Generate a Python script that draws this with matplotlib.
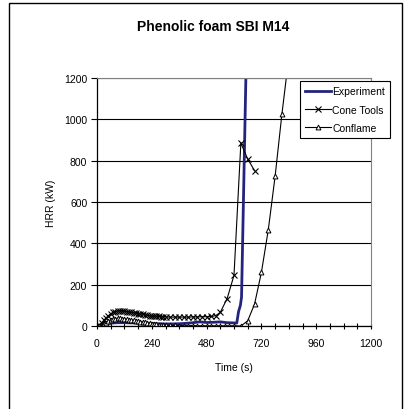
import matplotlib
matplotlib.use('Agg')
import matplotlib.pyplot as plt
from matplotlib.patches import Rectangle
from matplotlib.ticker import MultipleLocator

plt.rcParams['font.family'] = ['Liberation Sans', 'DejaVu Sans']

# Experiment (continuous record)
exp_t = [0, 15, 30, 45, 60, 90, 120, 150, 180, 210, 240, 270, 300, 330, 360, 390,
         420, 450, 480, 510, 540, 570, 600, 612, 620, 628, 633, 652, 660]
exp_hrr = [0, 2, 5, 10, 14, 16, 16, 15, 15, 13, 12, 11, 10, 10, 11, 13,
           16, 20, 17, 18, 20, 16, 15, 14, 70, 100, 140, 1200, 1400]

# Cone Tools prediction
cone_t = [0, 10, 20, 30, 40, 50, 60, 70, 80, 90, 100, 110, 120, 130, 140, 150,
          160, 170, 180, 190, 200, 210, 220, 230, 240, 250, 260, 270, 280, 290, 300,
          320, 340, 360, 380, 400, 420, 440, 460, 480, 500, 520, 540, 570, 600,
          630, 660, 690]
cone_hrr = [0, 5, 15, 28, 40, 50, 60, 66, 70, 73, 75, 74, 72, 70, 68, 66,
            64, 62, 60, 58, 56, 54, 52, 50, 49, 48, 47, 46, 45, 45, 44,
            43, 43, 43, 43, 43, 44, 44, 45, 45, 46, 50, 66, 133, 245,
            885, 808, 752]

# Conflame prediction
cf_t = [0, 10, 20, 30, 40, 50, 60, 70, 80, 90, 100, 110, 120, 130, 140, 150,
        160, 170, 180, 190, 200, 210, 220, 230, 240, 250, 260, 270, 280, 290, 300,
        320, 340, 360, 380, 400, 420, 440, 460, 480, 500, 520, 540, 560, 580, 600,
        630, 660, 690, 720, 750, 780, 810, 840]
cf_hrr = [0, 0, 2, 8, 16, 24, 30, 34, 36, 37, 37, 36, 35, 33, 31, 29,
          27, 25, 23, 21, 19, 17, 15, 13, 11, 9, 8, 7, 6, 5, 4,
          3, 3, 2, 2, 2, 2, 1, 1, 1, 1, 1, 1, 1, 1, 1,
          0, 25, 106, 259, 464, 724, 1027, 1300]

fig = plt.figure(figsize=(4.07, 4.10), dpi=100)
ax = fig.add_axes([97 / 407, 1 - 327 / 410, 274 / 407, 248 / 410])

# chart area border (cut at the bottom like the source)
fig.patches.append(Rectangle((8.5 / 407, -0.05), 393 / 407, 1.05 - 3.5 / 410,
                             transform=fig.transFigure, fill=False,
                             edgecolor='black', linewidth=1.0))

ax.plot(exp_t, exp_hrr, color='#24247f', linewidth=2.0, label='Experiment')
ax.plot(cone_t, cone_hrr, color='black', linewidth=0.8, marker='x',
        markersize=4, markeredgewidth=0.8, label='Cone Tools')
ax.plot(cf_t, cf_hrr, color='black', linewidth=0.8, marker='^',
        markersize=3.5, markerfacecolor='white', markeredgewidth=0.7,
        label='Conflame')

ax.set_xlim(0, 1200)
ax.set_ylim(0, 1200)
ax.xaxis.set_major_locator(MultipleLocator(240))
ax.xaxis.set_minor_locator(MultipleLocator(60))
ax.yaxis.set_major_locator(MultipleLocator(200))
ax.tick_params(axis='x', which='both', direction='inout', length=5, width=0.8,
               labelsize=7.5, pad=6)
ax.tick_params(axis='y', which='major', direction='out', length=4, width=0.8,
               labelsize=7.5, pad=3)
ax.grid(axis='y', color='black', linewidth=0.8)
ax.set_axisbelow(True)

for s in ['top', 'right']:
    ax.spines[s].set_color('#808080')
    ax.spines[s].set_linewidth(0.8)
for s in ['left', 'bottom']:
    ax.spines[s].set_linewidth(0.9)

ax.set_xlabel('Time (s)', fontsize=7.5, labelpad=10)
ax.set_ylabel('HRR (kW)', fontsize=7.5, labelpad=6)

fig.text(213 / 407, 1 - 27 / 410, 'Phenolic foam SBI M14', ha='center',
         va='center', fontsize=10, fontweight='bold')

leg = ax.legend(loc='upper left', bbox_to_anchor=(300 / 407, 1 - 82 / 410),
                bbox_transform=fig.transFigure, fontsize=7.5, frameon=True,
                fancybox=False, edgecolor='black', framealpha=1,
                handlelength=2.5, handletextpad=0.1, borderpad=0.5,
                labelspacing=0.8, borderaxespad=0)
leg.get_frame().set_linewidth(0.8)

fig.savefig('out.png', dpi=100)
